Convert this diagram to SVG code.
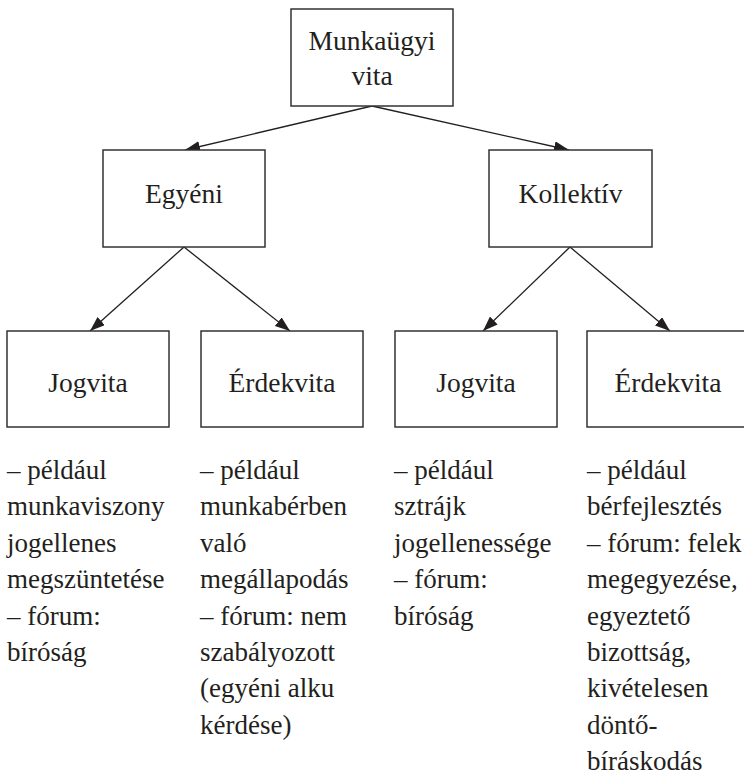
<svg xmlns="http://www.w3.org/2000/svg" width="744" height="782" viewBox="0 0 744 782" font-family="'Liberation Serif', 'Times New Roman', 'DejaVu Serif', serif">
<style>
.box{fill:#fff;stroke:#333;stroke-width:1.5}
.lbl{font-family:'Liberation Serif','Times New Roman','DejaVu Serif',serif;font-size:27.5px;fill:#231f20;text-anchor:middle}
.txt{font-family:'Liberation Serif','Times New Roman','DejaVu Serif',serif;font-size:27px;fill:#231f20}
.conn{stroke:#231f20;stroke-width:1.3;fill:none;marker-end:url(#ah)}
</style>
<defs>
<marker id="ah" markerUnits="userSpaceOnUse" markerWidth="16" markerHeight="12" refX="15" refY="5.5" orient="auto">
<path d="M0,0 L15,5.5 L0,11 z" fill="#231f20"/>
</marker>
</defs>
<rect width="744" height="782" fill="#fff"/>
<g id="connectors">
<line class="conn" x1="372" y1="106" x2="185" y2="150"/>
<line class="conn" x1="372" y1="106" x2="569" y2="150"/>
<line class="conn" x1="184" y1="247" x2="90" y2="331"/>
<line class="conn" x1="184" y1="247" x2="290" y2="331"/>
<line class="conn" x1="570" y1="247" x2="483" y2="331"/>
<line class="conn" x1="570" y1="247" x2="670" y2="331"/>
</g>
<g id="munkaugyi-vita">
<rect class="box" x="291" y="9" width="162" height="97"/>
<text class="lbl" x="372" y="50">Munkaügyi</text>
<text class="lbl" x="372" y="85">vita</text>
</g>
<g id="egyeni">
<rect class="box" x="103" y="150" width="162" height="97"/>
<text class="lbl" x="184" y="203">Egyéni</text>
</g>
<g id="kollektiv">
<rect class="box" x="489" y="150" width="163" height="97"/>
<text class="lbl" x="570.5" y="203">Kollektív</text>
</g>
<g id="egyeni-jogvita">
<rect class="box" x="7" y="331" width="162" height="96"/>
<text class="lbl" x="88" y="392">Jogvita</text>
</g>
<g id="egyeni-erdekvita">
<rect class="box" x="201" y="331" width="162" height="96"/>
<text class="lbl" x="282" y="392">Érdekvita</text>
</g>
<g id="kollektiv-jogvita">
<rect class="box" x="395" y="331" width="162" height="96"/>
<text class="lbl" x="476" y="392">Jogvita</text>
</g>
<g id="kollektiv-erdekvita">
<rect class="box" x="587" y="331" width="162" height="96"/>
<text class="lbl" x="668" y="392">Érdekvita</text>
</g>
<g id="desc-1" class="txt">
<text x="7" y="479">– például</text>
<text x="7" y="515">munkaviszony</text>
<text x="7" y="552">jogellenes</text>
<text x="7" y="588">megszüntetése</text>
<text x="7" y="625">– fórum:</text>
<text x="7" y="661">bíróság</text>
</g>
<g id="desc-2" class="txt">
<text x="200" y="479">– például</text>
<text x="200" y="515">munkabérben</text>
<text x="200" y="552">való</text>
<text x="200" y="588">megállapodás</text>
<text x="200" y="625">– fórum: nem</text>
<text x="200" y="661">szabályozott</text>
<text x="200" y="697">(egyéni alku</text>
<text x="200" y="734">kérdése)</text>
</g>
<g id="desc-3" class="txt">
<text x="394" y="479">– például</text>
<text x="394" y="515">sztrájk</text>
<text x="394" y="552">jogellenessége</text>
<text x="394" y="588">– fórum:</text>
<text x="394" y="625">bíróság</text>
</g>
<g id="desc-4" class="txt">
<text x="587" y="479">– például</text>
<text x="587" y="515">bérfejlesztés</text>
<text x="587" y="552">– fórum: felek</text>
<text x="587" y="588">megegyezése,</text>
<text x="587" y="625">egyeztető</text>
<text x="587" y="661">bizottság,</text>
<text x="587" y="697">kivételesen</text>
<text x="587" y="734">döntő-</text>
<text x="587" y="770">bíráskodás</text>
</g>
</svg>
